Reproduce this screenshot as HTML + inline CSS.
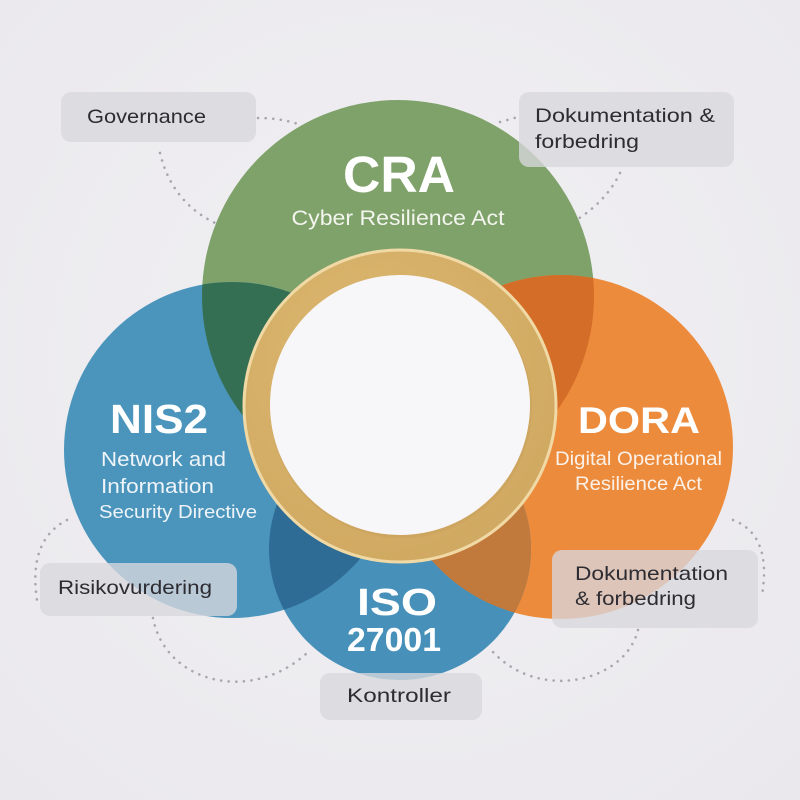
<!DOCTYPE html>
<html>
<head>
<meta charset="utf-8">
<style>
  html,body{margin:0;padding:0;background:#eeedf0;}
  svg{display:block;}
  text{font-family:"Liberation Sans", sans-serif;}
</style>
</head>
<body>
<svg width="800" height="800" viewBox="0 0 800 800" xmlns="http://www.w3.org/2000/svg">
  <defs>
    <radialGradient id="bg" cx="50%" cy="45%" r="75%">
      <stop offset="0" stop-color="#f1f0f3"/>
      <stop offset="1" stop-color="#eae8ec"/>
    </radialGradient>
    <radialGradient id="ringG" cx="40%" cy="35%" r="75%">
      <stop offset="0" stop-color="#dcb86f"/>
      <stop offset="1" stop-color="#cfa760"/>
    </radialGradient>
    <clipPath id="cCRA"><circle cx="398" cy="296" r="196"/></clipPath>
    <clipPath id="cNIS"><circle cx="232" cy="450" r="168"/></clipPath>
    <clipPath id="cDORA"><circle cx="561" cy="447" r="172"/></clipPath>
    <clipPath id="cISO"><circle cx="400" cy="549" r="131"/></clipPath>
  </defs>

  <rect x="0" y="0" width="800" height="800" fill="url(#bg)"/>

  <!-- dotted connectors -->
  <g fill="none" stroke="#a9a7ad" stroke-width="2.6" stroke-linecap="round" stroke-dasharray="0.1 7.5">
    <path d="M258,118 Q280,118 298,124"/>
    <path d="M160,153 Q175,215 240,232"/>
    <path d="M500,122 L518,117"/>
    <path d="M620,173 Q600,215 540,238"/>
    <path d="M67,520 Q28,540 37,600"/>
    <path d="M153,618 C165,682 250,705 307,653"/>
    <path d="M733,520 Q772,535 762,595"/>
    <path d="M638,630 C625,682 540,702 493,652"/>
  </g>

  <!-- base circles -->
  <circle cx="398" cy="296" r="196" fill="#7fa26b"/>
  <circle cx="232" cy="450" r="168" fill="#4b95bd"/>
  <circle cx="561" cy="447" r="172" fill="#ec8b3b"/>
  <circle cx="400" cy="549" r="131" fill="#4790b9"/>

  <!-- overlaps -->
  <circle cx="398" cy="296" r="196" fill="#356f53" clip-path="url(#cNIS)"/>
  <circle cx="398" cy="296" r="196" fill="#d46d27" clip-path="url(#cDORA)"/>
  <circle cx="400" cy="549" r="131" fill="#2f6c95" clip-path="url(#cNIS)"/>
  <circle cx="400" cy="549" r="131" fill="#c27a3c" clip-path="url(#cDORA)"/>

  <!-- center ring -->
  <circle cx="400" cy="406" r="156" fill="url(#ringG)" stroke="#f0d9a5" stroke-width="3"/>
  <circle cx="401" cy="407" r="131" fill="#c9a25c" opacity="0.6"/>
  <circle cx="400" cy="405" r="130" fill="#f7f6f9"/>

  <!-- circle titles -->
  <g fill="#ffffff">
    <text x="399" y="192" font-size="51" font-weight="bold" text-anchor="middle" textLength="112" lengthAdjust="spacingAndGlyphs">CRA</text>
    <text x="398" y="225" font-size="21" text-anchor="middle" textLength="213" lengthAdjust="spacingAndGlyphs" fill="#f3f5ee">Cyber Resilience Act</text>

    <text x="110" y="433" font-size="41" font-weight="bold" textLength="98" lengthAdjust="spacingAndGlyphs">NIS2</text>
    <text x="101" y="466" font-size="20" textLength="125" lengthAdjust="spacingAndGlyphs" fill="#eef4f8">Network and</text>
    <text x="101" y="493" font-size="20" textLength="113" lengthAdjust="spacingAndGlyphs" fill="#eef4f8">Information</text>
    <text x="99" y="518" font-size="18.5" textLength="158" lengthAdjust="spacingAndGlyphs" fill="#eef4f8">Security Directive</text>

    <text x="578" y="433" font-size="37" font-weight="bold" textLength="122" lengthAdjust="spacingAndGlyphs">DORA</text>
    <text x="555" y="465" font-size="19" textLength="167" lengthAdjust="spacingAndGlyphs" fill="#fbf1e8">Digital Operational</text>
    <text x="575" y="490" font-size="19" textLength="127" lengthAdjust="spacingAndGlyphs" fill="#fbf1e8">Resilience Act</text>

    <text x="357" y="615" font-size="38" font-weight="bold" textLength="80" lengthAdjust="spacingAndGlyphs">ISO</text>
    <text x="347" y="651" font-size="33" font-weight="bold" textLength="94" lengthAdjust="spacingAndGlyphs">27001</text>
  </g>

  <!-- labels -->
  <g fill="#d9d7dd" fill-opacity="0.78">
    <rect x="61" y="92" width="195" height="50" rx="10"/>
    <rect x="519" y="92" width="215" height="75" rx="10"/>
    <rect x="40" y="563" width="197" height="53" rx="10"/>
    <rect x="320" y="673" width="162" height="47" rx="10"/>
    <rect x="552" y="550" width="206" height="78" rx="10"/>
  </g>
  <g fill="#2e2c33" font-size="19.5">
    <text x="87" y="123" textLength="119" lengthAdjust="spacingAndGlyphs">Governance</text>
    <text x="535" y="122" textLength="180" lengthAdjust="spacingAndGlyphs">Dokumentation &amp;</text>
    <text x="535" y="148" textLength="104" lengthAdjust="spacingAndGlyphs">forbedring</text>
    <text x="58" y="594" textLength="154" lengthAdjust="spacingAndGlyphs">Risikovurdering</text>
    <text x="347" y="702" textLength="104" lengthAdjust="spacingAndGlyphs">Kontroller</text>
    <text x="575" y="580" textLength="153" lengthAdjust="spacingAndGlyphs">Dokumentation</text>
    <text x="575" y="605" textLength="121" lengthAdjust="spacingAndGlyphs">&amp; forbedring</text>
  </g>
</svg>
</body>
</html>
